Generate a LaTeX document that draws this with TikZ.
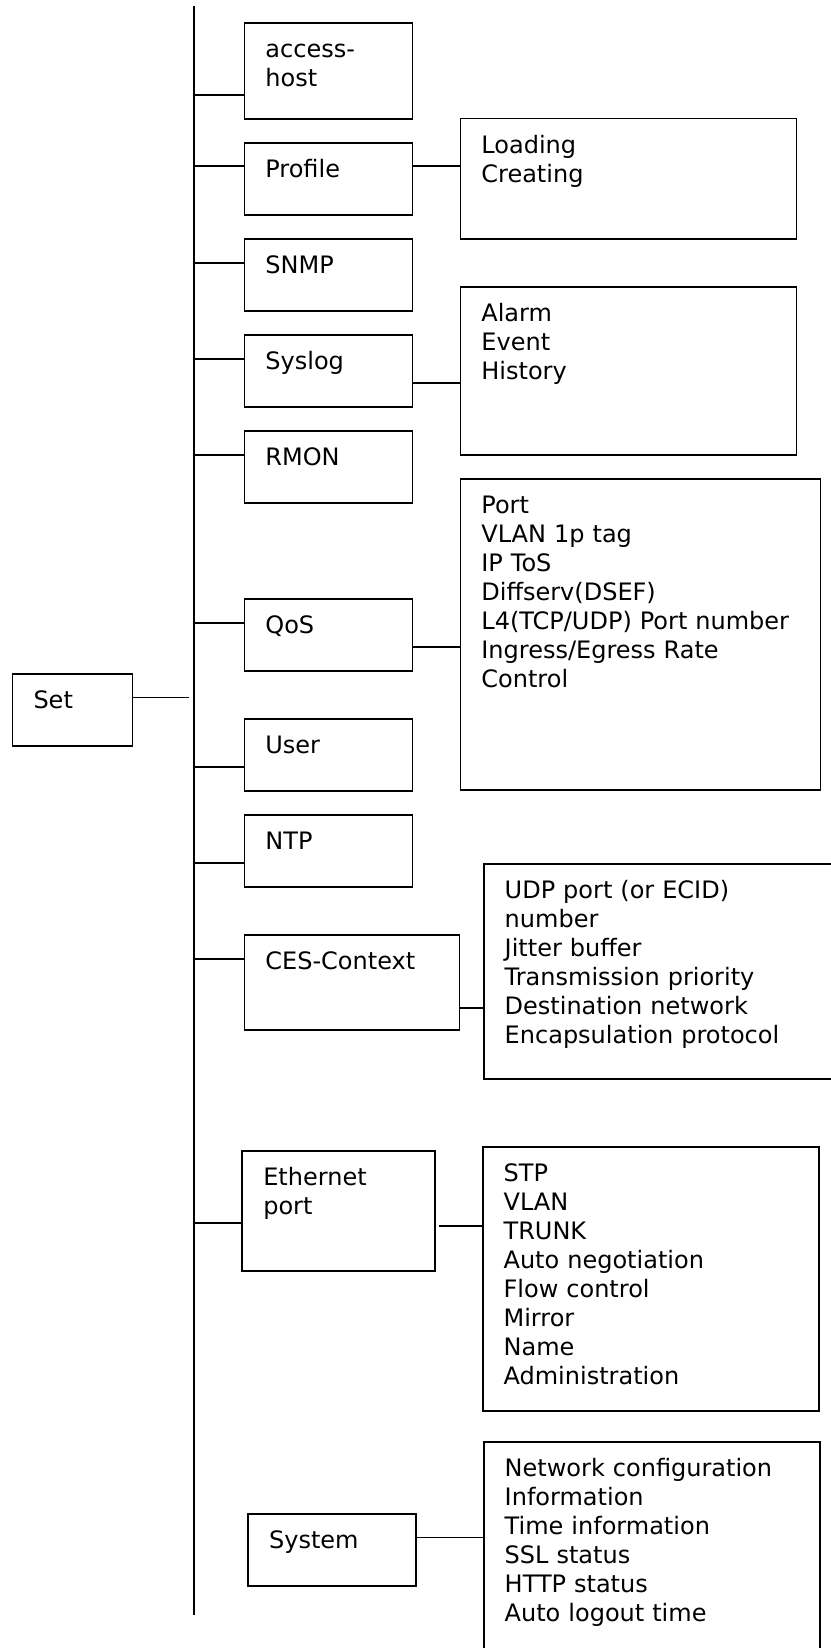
\documentclass[tikz,border=0pt]{standalone}
\usepackage{fontspec}
\setmainfont{DejaVu Sans}
\usetikzlibrary{calc}
\tikzset{
  boxsize/.code 2 args={\pgfmathsetlengthmacro\boxtw{#1-42}%
    \pgfmathsetlengthmacro\boxtd{#2-35}%
    \pgfkeysalso{text width=\boxtw,text depth=\boxtd}},
  menu/.style 2 args={draw,line width=1.8pt,anchor=north west,align=left,
    inner xsep=21pt,inner ysep=0pt,text height=35pt,boxsize={#1}{#2}},
  link/.style={line width=1.8pt},
  every node/.style={font=\fontsize{24}{29}\selectfont},
}
\begin{document}
\begin{tikzpicture}[x=1pt,y=-1pt]
\useasboundingbox (0,0) rectangle (830,1648);
% trunk
\coordinate (top) at (193.8,6);
\coordinate (bot) at (193.8,1615);
\draw[line width=1.4pt] (top) -- (bot);
% left column
\node[menu={120}{72}] (set) at (11.6,672.7) {Set};
\node[menu={168}{96}] (acc) at (243.5,22) {access-\\host};
\node[menu={168}{72}] (prof) at (243.5,142) {Profile};
\node[menu={168}{72}] (snmp) at (243.5,238) {SNMP};
\node[menu={168}{72}] (slog) at (243.5,334) {Syslog};
\node[menu={168}{72}] (rmon) at (243.5,430) {RMON};
\node[menu={168}{72}] (qos) at (243.5,598) {QoS};
\node[menu={168}{72}] (user) at (243.5,718) {User};
\node[menu={168}{72}] (ntp) at (243.5,814) {NTP};
\node[menu={215}{95}] (ces) at (243.5,934) {CES-Context};
\node[menu={193}{120}] (eth) at (241.4,1150) {Ethernet\\port};
\node[menu={168}{72}] (sys) at (247.2,1512.7) {System};
% right column
\node[menu={336}{120}] (load) at (459.5,117.7) {Loading\\Creating};
\node[menu={336}{168}] (alarm) at (459.5,285.7) {Alarm\\Event\\History};
\node[menu={360}{311}] (qlist) at (459.5,478) {Port\\VLAN 1p tag\\IP ToS\\Diffserv(DSEF)\\L4(TCP/UDP) Port number\\Ingress/Egress Rate\\Control};
\node[menu={352}{215}] (udp) at (482.8,863) {UDP port (or ECID)\\number\\Jitter buffer\\Transmission priority\\Destination network\\Encapsulation protocol};
\node[menu={336}{264}] (stp) at (481.7,1145.7) {STP\\VLAN\\TRUNK\\Auto negotiation\\Flow control\\Mirror\\Name\\Administration};
\node[menu={336}{240}] (net) at (482.8,1441) {Network configuration\\Information\\Time information\\SSL status\\HTTP status\\Auto logout time};
% stubs to the trunk
\foreach \n/\d in {acc/24,prof/-12.7,snmp/-12,slog/-12.3,rmon/-12.3,qos/-12.3,user/12,ntp/11.7,ces/-23.8,eth/11.7}
  \draw[link] (\n.west) ++(0,\d) coordinate (s) -- (s -| top);
\draw[link] (set.east) ++(0,-12.2) coordinate (p) -- ($(p -| top)+(-5,0)$);
% links to the lists
\draw[link] (prof.east) ++(0,-12.7) coordinate (p) -- (p -| load.west);
\draw[link] (slog.east) ++(0,11.7) coordinate (p) -- (p -| alarm.west);
\draw[link] (qos.east) ++(0,11.7) coordinate (p) -- (p -| qlist.west);
\draw[link] (ces.east) ++(0,25.5) coordinate (p) -- (p -| udp.west);
\draw[link] ([xshift=3pt]eth.east) ++(0,15) coordinate (p) -- (p -| stp.west);
\draw[link] (sys.east) ++(0,-12.2) coordinate (p) -- ($(p -| net.west)+(2.6,0)$);
\end{tikzpicture}
\end{document}
